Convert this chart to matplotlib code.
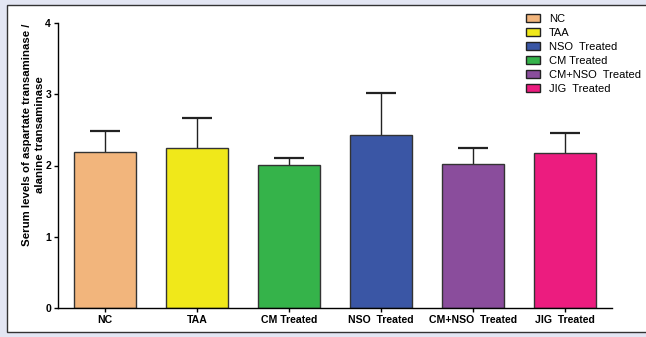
import matplotlib
matplotlib.use('Agg')
import matplotlib.pyplot as plt
from matplotlib.patches import Patch, Rectangle

plt.rcParams['font.family'] = ['Liberation Sans', 'DejaVu Sans']

# 그룹별 AST/ALT 평균값과 표준편차
groups = ['NC', 'TAA', 'CM Treated', 'NSO  Treated', 'CM+NSO  Treated', 'JIG  Treated']
means = [2.19, 2.24, 2.01, 2.43, 2.02, 2.18]
errors = [0.29, 0.43, 0.10, 0.58, 0.22, 0.28]
colors = ['#F2B57C', '#F0E81A', '#35B34A', '#3A56A5', '#8A4D9C', '#EC1C7F']

# 범례 순서
legend_labels = ['NC', 'TAA', 'NSO  Treated', 'CM Treated', 'CM+NSO  Treated', 'JIG  Treated']
legend_colors = ['#F2B57C', '#F0E81A', '#3A56A5', '#35B34A', '#8A4D9C', '#EC1C7F']

fig = plt.figure(figsize=(6.46, 3.37), dpi=100)
fig.patch.set_facecolor('#E3E6F3')

# 흰색 패널
W, H = 646, 337
panel = Rectangle((7 / W, 1 - 332 / H), 700 / W, 327 / H, transform=fig.transFigure,
                  facecolor='white', edgecolor='#333333', linewidth=1.0, zorder=-10)
fig.patches.append(panel)

ax = fig.add_axes([58 / W, 1 - 308.3 / H, (612 - 58) / W, (308.3 - 22.7) / H])
ax.set_facecolor('none')

x = range(len(groups))
ax.bar(x, means, width=0.67, color=colors, edgecolor='#333333', linewidth=1.0, zorder=2)
eb = ax.errorbar(x, means, yerr=[[0] * len(errors), errors], fmt='none', ecolor='#222222',
                 elinewidth=1.0, capsize=11, capthick=1.6, zorder=1)
# 아래쪽 캡은 숨김 (위쪽 오차만 표시)
eb[1][0].set_visible(False)

ax.set_xlim(-0.51, 5.51)
ax.set_ylim(0, 4)
ax.set_yticks([0, 1, 2, 3, 4])
ax.set_xticks(list(x))
ax.set_xticklabels(groups, fontweight='bold', fontsize=7.6)
for lab in ax.get_yticklabels():
    lab.set_fontweight('bold')
    lab.set_fontsize(7.5)
ax.tick_params(axis='both', direction='out', length=3, width=1.0, pad=2)

ax.spines['top'].set_visible(False)
ax.spines['right'].set_visible(False)
ax.spines['left'].set_linewidth(1.0)
ax.spines['bottom'].set_linewidth(1.0)

ax.set_ylabel('Serum levels of aspartate transaminase /\nalanine transaminase',
              fontweight='bold', fontsize=8.2, linespacing=1.35)
ax.yaxis.set_label_coords(-0.024, 0.607)

handles = [Patch(facecolor=c, edgecolor='#222222', linewidth=1.0) for c in legend_colors]
ax.legend(handles, legend_labels, loc='upper left', bbox_to_anchor=(526 / W, 1 - 14 / H),
          bbox_transform=fig.transFigure, frameon=False, fontsize=8,
          handlelength=1.3, handleheight=0.7, handletextpad=0.75, labelspacing=0.36,
          borderaxespad=0, borderpad=0)

fig.savefig('out.png', dpi=100, facecolor=fig.get_facecolor())
